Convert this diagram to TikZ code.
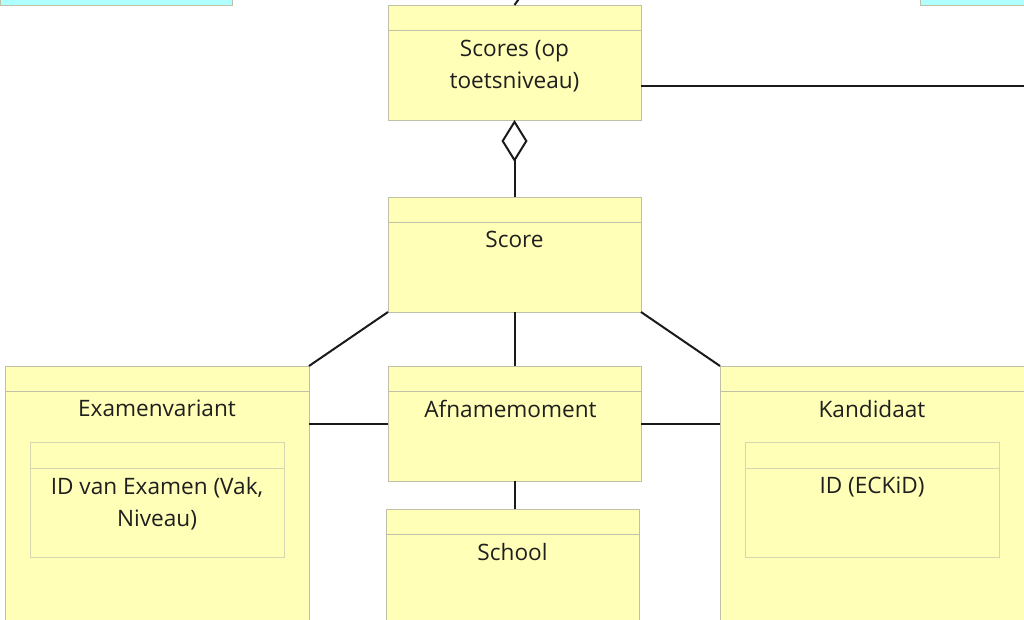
\documentclass[tikz,border=0pt]{standalone}
\usepackage{fontspec}
\setmainfont{Open Sans}
\usetikzlibrary{arrows.meta}
\usetikzlibrary{positioning}

\definecolor{clsfill}{RGB}{255,255,183}
\definecolor{clsdraw}{RGB}{192,192,168}
\definecolor{innerdraw}{RGB}{214,214,176}
\definecolor{cyanfill}{RGB}{175,255,255}
\definecolor{linecol}{RGB}{26,26,26}

\begin{document}
\begin{tikzpicture}[x=1pt, y=1pt,
                every node/.style = {inner sep=0pt, outer sep=0pt},
                cls/.style = {shape=rectangle, draw=clsdraw, fill=clsfill, line width=0.9pt,
                              minimum width=253pt, minimum height=115pt},
                wide/.style = {cls, minimum width=304pt, minimum height=280pt},
                attr/.style = {cls, draw=innerdraw, minimum width=254pt, minimum height=115pt},
                other/.style = {shape=rectangle, draw=clsdraw, fill=cyanfill, line width=0.9pt,
                                minimum height=40pt},
                hdr/.style = {draw=clsdraw, line width=0.9pt},
                title/.style = {align=center, font=\fontsize{22.6}{32}\selectfont, text=black!88},
                assoc/.style = {draw=linecol, line width=2pt},
                aggr/.style = {assoc, -{Diamond[open, length=42pt, width=26pt]}}]
            \useasboundingbox (0,0) rectangle (1024,-620);
            \clip (0,0) rectangle (1024,-620);

            % classes cut off at the top
            \node (c_left) [other, minimum width=232pt, anchor=south east] at (232,-5) {};
            \node (c_right) [other, minimum width=110pt, anchor=south west] at (920,-5) {};

            \node (c_scores) [cls, anchor=north west] at (388,-5) {};
            \node (c_score) [cls, below = 77pt of c_scores] {};
            \node (c_afname) [cls, below = 54pt of c_score] {};
            \node (c_school) [cls, below = 28pt of c_afname, xshift=-2pt, minimum height=130pt] {};
            \node (c_examen) [wide, left = 79pt of c_afname.north west, anchor=north east] {};
            \node (c_kand) [wide, right = 79pt of c_afname.north east, anchor=north west] {};

            % attribute boxes
            \node (a_examen) [attr, below right = 76pt and 25pt of c_examen.north west] {};
            \node (a_kand) [attr, below right = 76pt and 25pt of c_kand.north west] {};

            \foreach \c in {c_scores, c_score, c_afname, c_school, c_examen, c_kand}
                \draw[hdr] ([yshift=-25.5pt]\c.north west) -- ([yshift=-25.5pt]\c.north east);
            \foreach \c in {a_examen, a_kand}
                \draw[hdr, draw=innerdraw] ([yshift=-26pt]\c.north west) -- ([yshift=-26pt]\c.north east);

            % names
            \node (t_scores) [title, below = 35pt of c_scores.north] {Scores (op\\toetsniveau)};
            \node (t_score) [title, below = 34pt of c_score.north] {Score};
            \node (t_afname) [title, below = 34pt of c_afname.north, xshift=-4pt] {Afnamemoment};
            \node (t_school) [title, below = 34pt of c_school.north] {School};
            \node (t_examen) [title, below = 34pt of c_examen.north] {Examenvariant};
            \node (t_kand) [title, below = 34pt of c_kand.north] {Kandidaat};
            \node (t_aexamen) [title, below = 35pt of a_examen.north] {ID van Examen (Vak,\\Niveau)};
            \node (t_akand) [title, below = 35pt of a_kand.north] {ID (ECKiD)};

            \coordinate (up) at (526,11);
            \coordinate (rt) at (1030,-86);

            \path[assoc]
            (c_scores.north)       edge (up)
            (rt)                   edge (rt -| c_scores.east)
            (c_score.north)        edge[aggr] (c_scores.south)
            (c_score.south west)   edge (c_examen.north east)
            (c_score.south)        edge (c_afname.north)
            (c_score.south east)   edge (c_kand.north west)
            (c_afname.west)        edge (c_afname.west -| c_examen.east)
            (c_afname.east)        edge (c_afname.east -| c_kand.west)
            (c_afname.south)       edge (c_afname.south |- c_school.north);
        \end{tikzpicture}
\end{document}
